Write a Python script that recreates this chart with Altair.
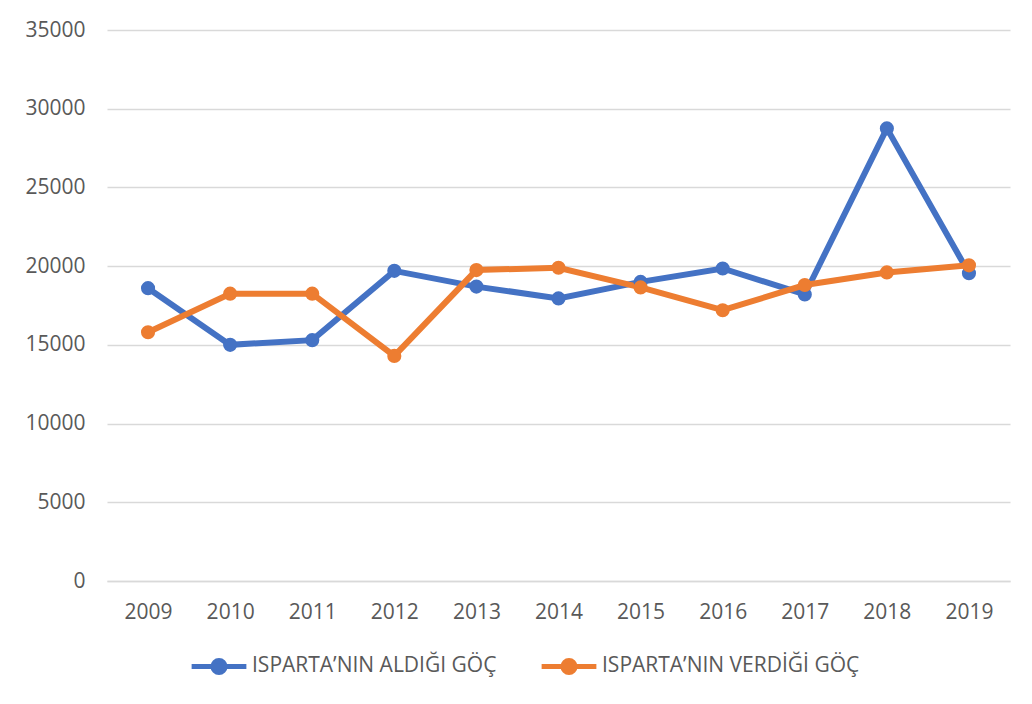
import altair as alt
import pandas as pd

years = ["2009", "2010", "2011", "2012", "2013", "2014", "2015", "2016", "2017", "2018", "2019"]
aldigi = [18600, 15000, 15300, 19700, 18700, 17950, 19000, 19850, 18200, 28750, 19550]
verdigi = [15800, 18250, 18250, 14300, 19750, 19900, 18650, 17200, 18800, 19600, 20050]
series_names = ["ISPARTA\u2019NIN ALDIĞI GÖÇ", "ISPARTA\u2019NIN VERDİĞİ GÖÇ"]
colors = ["#4472C4", "#ED7D31"]
y_ticks = [0, 5000, 10000, 15000, 20000, 25000, 30000, 35000]

rows = []
for y, v in zip(years, aldigi):
    rows.append({"Yıl": y, "Göç": v, "Seri": series_names[0]})
for y, v in zip(years, verdigi):
    rows.append({"Yıl": y, "Göç": v, "Seri": series_names[1]})
df = pd.DataFrame(rows)

FONT = "Open Sans"
legend_symbol = "M -1 0 H 1 M -0.22 0 A 0.22 0.22 0 1 1 0.22 0 A 0.22 0.22 0 1 1 -0.22 0 Z"

chart = alt.Chart(df).mark_line(
    strokeWidth=6,
    point=alt.OverlayMarkDef(filled=True, size=200, opacity=1),
).encode(
    x=alt.X("Yıl:O", sort=years,
            scale=alt.Scale(paddingInner=0, paddingOuter=0.5),
            axis=alt.Axis(title=None, labelAngle=0, ticks=False, domain=True,
                          domainColor="#D9D9D9", domainWidth=1.5, grid=False,
                          labelPadding=20)),
    y=alt.Y("Göç:Q", scale=alt.Scale(domain=[0, 35000], nice=False),
            axis=alt.Axis(title=None, values=y_ticks, format="d", ticks=False,
                          domain=False, grid=True, gridColor="#D9D9D9",
                          gridWidth=1.5, labelPadding=22)),
    color=alt.Color("Seri:N",
                    scale=alt.Scale(domain=series_names, range=colors),
                    legend=alt.Legend(title=None, orient="none", direction="horizontal",
                                      legendX=82, legendY=606,
                                      symbolType=legend_symbol, symbolSize=3000,
                                      symbolStrokeWidth=5, symbolFillColor=None,
                                      labelOffset=3, columnPadding=34)),
).properties(
    width=903,
    height=551,
    padding={"left": 99, "top": 22, "right": 14, "bottom": 110},
    autosize=alt.AutoSizeParams(type="none"),
).configure_view(
    stroke=None
).configure_axis(
    labelFont=FONT, labelFontSize=21, labelColor="#595959"
).configure_legend(
    labelFont=FONT, labelFontSize=21, labelColor="#595959", labelLimit=400
)

chart.save("out.html", embed_options={"renderer": "svg", "actions": False})
